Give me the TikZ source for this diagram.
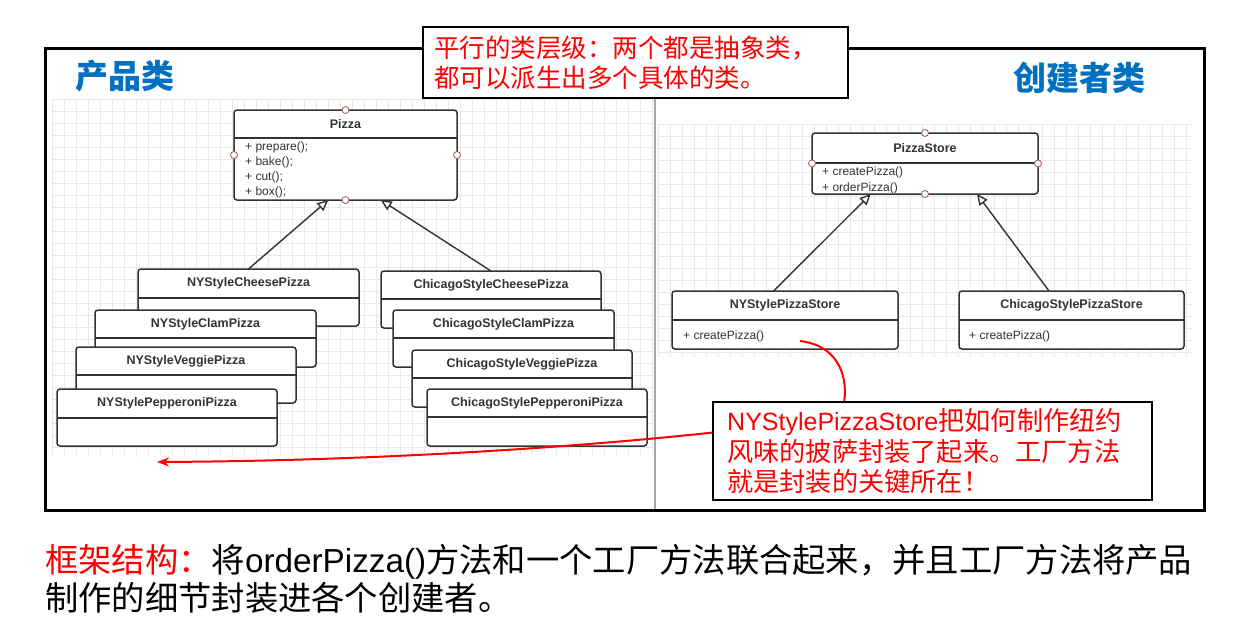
\documentclass[tikz,border=0pt]{standalone}
\usepackage{fontspec}
\setmainfont{Liberation Sans}
\newfontfamily\cjk{Noto Sans CJK SC}
\newfontfamily\lib{Liberation Sans}
\usetikzlibrary{arrows.meta,calc}
\definecolor{umlc}{HTML}{333333}
\definecolor{headblue}{HTML}{0070C0}
\definecolor{gridc}{HTML}{E8E8E8}
\definecolor{dotc}{HTML}{A05A5A}
\newcommand{\umlcls}[7]{%
  \node[umlbox, minimum width={(#4-#2)*1pt}, minimum height={(#6-#3)*1pt}] (#1) at ({(#2+#4)/2},{(#3+#6)/2}) {};
  \draw[umlline] (#1.west |- 0,#5) -- (#1.east |- 0,#5);
  \node[umltitle] (#1-t) at ({(#2+#4)/2},{(#3+#5)/2}) {#7};
}
\newcommand{\umlmeth}[4]{\node[umlmeth, anchor=west] (#1) at (#2,#3) {#4};}
\begin{document}
\begin{tikzpicture}[x=1pt,y=-1pt,
  umlbox/.style={draw=umlc, line width=1.5pt, fill=white, rounded corners=3pt, inner sep=0pt, outer sep=0pt},
  umlline/.style={draw=umlc, line width=1.5pt},
  umltitle/.style={font=\lib\bfseries\fontsize{12.5}{14}\selectfont, text=umlc, inner sep=0pt},
  umlmeth/.style={font=\lib\fontsize{12}{14}\selectfont, text=umlc, inner sep=0pt},
  inh/.style={draw=umlc, line width=1.4pt, -{Triangle[length=11pt,width=10pt,fill=white,line width=1.4pt]}},
  dotn/.style={circle, draw=dotc, fill=white, line width=0.8pt, minimum size=7pt, inner sep=0pt},
  gridline/.style={draw=gridc, line width=0.6pt},
  headtxt/.style={font=\cjk\bfseries\fontsize{33}{36}\selectfont, text=headblue, inner sep=0pt},
  notebox/.style={draw=black, line width=2pt, fill=white, inner sep=0pt},
  redtxt/.style={font=\cjk\fontsize{25.5}{28}\selectfont, text=red, inner sep=0pt},
  redtxtb/.style={font=\cjk\fontsize{26.2}{28}\selectfont, text=red, inner sep=0pt},
  bottxt/.style={font=\cjk\fontsize{33.3}{36}\selectfont, text=black, inner sep=0pt},
  redline/.style={draw=red, line width=2pt}
]
\useasboundingbox (0,0) rectangle (1237,629);
\fill[white] (0,0) rectangle (1237,629);

% grids
\foreach \x in {52,64,...,652} \draw[gridline] (\x,99) -- (\x,455);
\foreach \y in {99,111,...,455} \draw[gridline] (52,\y) -- (652,\y);
\foreach \x in {658,670,...,1192} \draw[gridline] (\x,124) -- (\x,357);
\foreach \y in {124,136,...,357} \draw[gridline] (658,\y) -- (1192,\y);

% frame and divider
\draw[black, line width=3pt] (45,48) rectangle (1204,510);
\draw[gray!70, line width=2pt] (655,49.5) -- (655,508.5);

% headings
\node[headtxt, anchor=west] (hl) at (75,76) {产品类};
\node[headtxt, anchor=west] (hr) at (1013,78) {创建者类};

% product classes
\umlcls{pizza}{234}{110}{457}{138}{200}{Pizza}
\umlmeth{pm1}{245}{147}{+ prepare();}
\umlmeth{pm2}{245}{162}{+ bake();}
\umlmeth{pm3}{245}{177}{+ cut();}
\umlmeth{pm4}{245}{192}{+ box();}
\umlcls{nycheese}{138}{269}{359}{298}{326}{NYStyleCheesePizza}
\umlcls{nyclam}{95}{310}{316}{338}{367}{NYStyleClamPizza}
\umlcls{nyveggie}{76}{347}{296}{375}{403}{NYStyleVeggiePizza}
\umlcls{nypep}{57}{389}{277}{418}{446}{NYStylePepperoniPizza}
\umlcls{chcheese}{381}{271}{601}{299}{328}{ChicagoStyleCheesePizza}
\umlcls{chclam}{393}{310}{614}{338}{367}{ChicagoStyleClamPizza}
\umlcls{chveggie}{412}{350}{632}{378}{407}{ChicagoStyleVeggiePizza}
\umlcls{chpep}{427}{389}{647}{417}{446}{ChicagoStylePepperoniPizza}

% creator classes
\umlcls{store}{812}{133}{1038}{163}{194}{PizzaStore}
\umlmeth{sm1}{822}{172}{+ createPizza()}
\umlmeth{sm2}{822}{188}{+ orderPizza()}
\umlcls{nystore}{672}{291}{898}{320}{349}{NYStylePizzaStore}
\umlmeth{nysm}{683}{336}{+ createPizza()}
\umlcls{chstore}{959}{291}{1184}{320}{349}{ChicagoStylePizzaStore}
\umlmeth{chsm}{969}{336}{+ createPizza()}

% inheritance arrows
\draw[inh] (nycheese.north) -- ($(pizza.south west)!0.423!(pizza.south east)$);
\draw[inh] (chcheese.north) -- ($(pizza.south west)!0.658!(pizza.south east)$);
\draw[inh] ($(nystore.north west)!0.45!(nystore.north east)$) -- ($(store.south west)!0.26!(store.south east)$);
\draw[inh] ($(chstore.north west)!0.40!(chstore.north east)$) -- ($(store.south west)!0.73!(store.south east)$);

% connection points
\node[dotn] (pd1) at (pizza.north) {};
\node[dotn] (pd2) at (pizza.south) {};
\node[dotn] (pd3) at (pizza.west) {};
\node[dotn] (pd4) at (pizza.east) {};
\node[dotn] (sd1) at (store.north) {};
\node[dotn] (sd2) at (store.south) {};
\node[dotn] (sd3) at (store.west) {};
\node[dotn] (sd4) at (store.east) {};

% top note
\node[notebox, minimum width=425pt, minimum height=71pt] (note1) at (635.5,62.5) {};
\node[redtxt, anchor=west] (n1a) at (434,48) {平行的类层级：两个都是抽象类，};
\node[redtxt, anchor=west] (n1b) at (434,78) {都可以派生出多个具体的类。};

% right note
\node[notebox, minimum width=439pt, minimum height=98pt] (note2) at (932.5,451) {};
\node[redtxtb, anchor=west] (n2a) at (727,422) {{\lib\fontsize{25}{28}\selectfont NYStylePizzaStore}把如何制作纽约};
\node[redtxtb, anchor=west] (n2b) at (727,452) {风味的披萨封装了起来。工厂方法};
\node[redtxtb, anchor=west] (n2c) at (727,482) {就是封装的关键所在！};

% red connectors
\coordinate (arrEnd) at (157,462);
\coordinate (cpStart) at (800,341);
\draw[redline, -{Stealth[length=12pt,width=9pt]}] ($(note2.north west)!0.316!(note2.south west)$) .. controls (550,450) and (350,461) .. (arrEnd);
\draw[redline] (cpStart) .. controls (835,345) and (848,372) .. ($(note2.north west)!0.30!(note2.north east)$);

% bottom text
\node[bottxt, anchor=west] (b1) at (45,562) {\textcolor{red}{框架结构：}将{\lib orderPizza()}方法和一个工厂方法联合起来，并且工厂方法将产品};
\node[bottxt, anchor=west] (b2) at (45,598) {制作的细节封装进各个创建者。};
\end{tikzpicture}
\end{document}
